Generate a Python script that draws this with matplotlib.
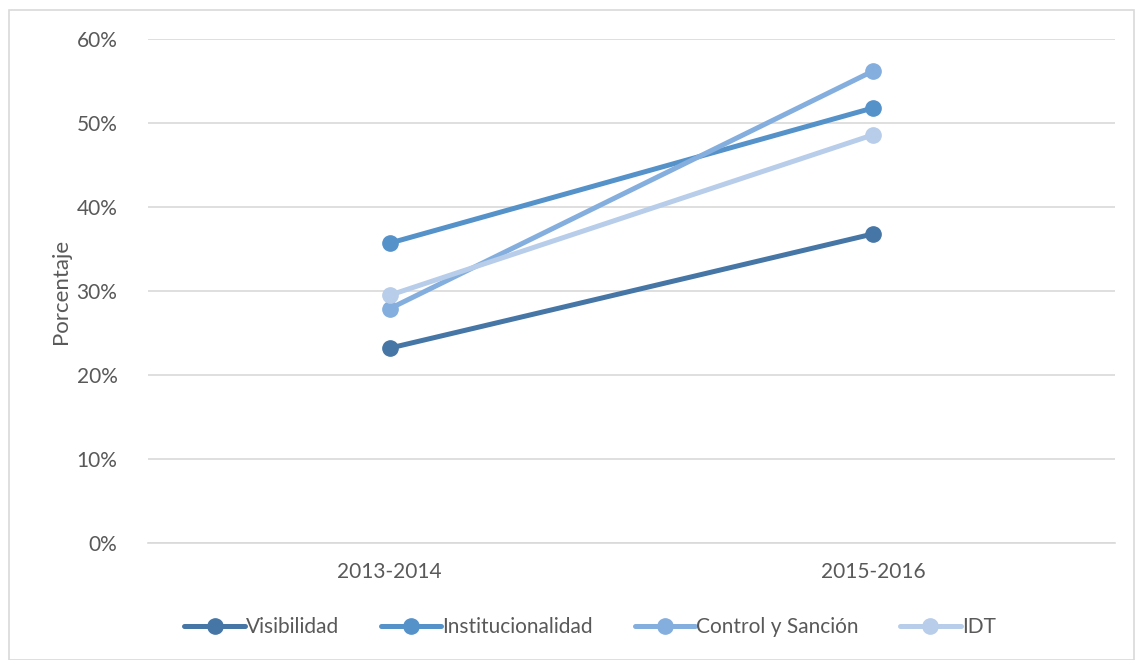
import numpy as np
import matplotlib as mpl
import matplotlib.pyplot as plt
from matplotlib.patches import Rectangle
from matplotlib.ticker import FuncFormatter

# Data

periods = ["2013-2014", "2015-2016"]
visibilidad = [23.2, 36.8]
institucionalidad = [35.7, 51.8]
control = [27.9, 56.2]
idt = [29.5, 48.6]

names = ["Visibilidad", "Institucionalidad", "Control y Sanción", "IDT"]
colors = ["#4676A6", "#5592CA", "#84AEDD", "#B7CDE9"]

# Formatting

mpl.rcParams['font.family'] = ['Lato', 'DejaVu Sans']
grey = '#595959'

fig = plt.figure(figsize = (11.36, 6.6), dpi = 100)
ax = fig.add_axes([148/1136, 1 - 543/660, (1115 - 148)/1136, (543 - 39)/660])

x = np.arange(len(periods))
for vals, name, c in zip([visibilidad, institucionalidad, control, idt], names, colors):
  ax.plot(x, vals, ls = '-', lw = 3.6, color = c, marker = 'o', ms = 11,
          label = name, solid_capstyle = 'round')

ax.set_xlim(-0.5, 1.5)
ax.set_ylim(0, 60)
ax.set_yticks(np.arange(0, 61, 10))
ax.yaxis.set_major_formatter(FuncFormatter(lambda v, p: "%d%%" % v))
ax.set_xticks(x)
ax.set_xticklabels(periods)

ax.grid(axis = 'y', color = '#D9D9D9', lw = 1.2)
ax.set_axisbelow(True)
for s in ['top', 'right', 'left']:
  ax.spines[s].set_visible(False)
ax.spines['bottom'].set_color('#D9D9D9')
ax.spines['bottom'].set_linewidth(1.2)
ax.tick_params(axis = 'both', length = 0, labelsize = 15, colors = grey)
ax.tick_params(axis = 'y', pad = 22)
ax.tick_params(axis = 'x', pad = 14)

ax.set_ylabel("Porcentaje", size = 16, color = grey, labelpad = 4)

leg = fig.legend(*ax.get_legend_handles_labels(), loc = 'center',
                 bbox_to_anchor = (590/1136, 1 - 627/660), ncol = 4,
                 frameon = False, fontsize = 15, handlelength = 2.9,
                 handletextpad = 0.05, columnspacing = 2.0)
for t in leg.get_texts():
  t.set_color(grey)

fig.patches.append(Rectangle((9/1136, 0), 1 - 9/1136 - 2/1136, 1 - 10/660,
                             transform = fig.transFigure, fill = False,
                             edgecolor = '#D9D9D9', lw = 1.2))

fig.savefig("out.png", dpi = 100)
